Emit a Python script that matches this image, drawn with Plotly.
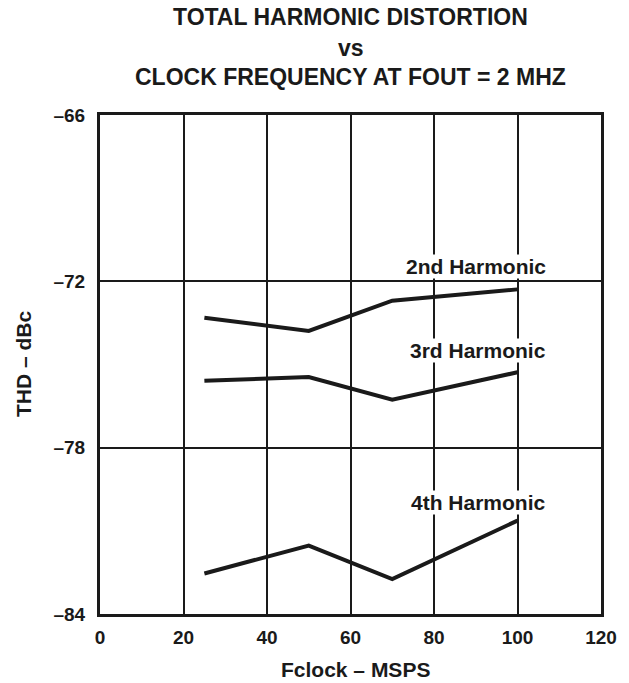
import plotly.graph_objects as go

fclock = [25, 50, 70, 100]
h2 = [-73.31, -73.79, -72.70, -72.29]
h3 = [-75.59, -75.45, -76.27, -75.28]
h4 = [-82.54, -81.53, -82.74, -80.63]

series = [("2nd Harmonic", h2), ("3rd Harmonic", h3), ("4th Harmonic", h4)]
# label anchor (right edge x, y, y-anchor)
label_pos = {"2nd Harmonic": (107, -71.93, "bottom"),
             "3rd Harmonic": (107, -74.51, "middle"),
             "4th Harmonic": (107, -79.98, "middle")}

x_ticks = [0, 20, 40, 60, 80, 100, 120]
y_ticks = [-84, -78, -72, -66]
y_tick_text = ["–84", "–78", "–72", "–66"]
title_lines = ["TOTAL HARMONIC DISTORTION", "vs", "CLOCK FREQUENCY AT FOUT = 2 MHZ"]

FONT = "Liberation Sans, Arial, sans-serif"
INK = "#1a1a1a"

L, R, T, B = 100, 28, 115, 69
W, H = 629, 683
PH = H - T - B

def py(pix):
    return (H - B - pix) / PH

fig = go.Figure()
for name, ys in series:
    fig.add_trace(go.Scatter(x=fclock, y=ys, mode="lines", name=name,
                             line=dict(color=INK, width=4), showlegend=False))

for name, (lx, ly, ya) in label_pos.items():
    fig.add_annotation(x=lx, y=ly, xref="x", yref="y", text="<b>%s</b>" % name,
                       xanchor="right", yanchor=ya,
                       showarrow=False, bgcolor="white", borderpad=0,
                       font=dict(family=FONT, size=21, color=INK))

for txt, pix in zip(title_lines, [17, 48, 77]):
    fig.add_annotation(x=0.5, y=py(pix), xref="paper", yref="paper", text="<b>%s</b>" % txt,
                       xanchor="center", yanchor="middle", showarrow=False,
                       font=dict(family=FONT, size=23, color=INK))

fig.add_annotation(x=(23 - L) / (W - L - R), y=py(364), xref="paper", yref="paper",
                   text="<b>THD – dBc</b>", textangle=-90, showarrow=False,
                   xanchor="center", yanchor="middle",
                   font=dict(family=FONT, size=21, color=INK))
fig.add_annotation(x=(355 - L) / (W - L - R), y=py(669), xref="paper", yref="paper",
                   text="<b>Fclock – MSPS</b>", showarrow=False,
                   xanchor="center", yanchor="middle",
                   font=dict(family=FONT, size=21, color=INK))

fig.update_layout(
    width=W, height=H,
    margin=dict(l=L, r=R, t=T, b=B),
    paper_bgcolor="white", plot_bgcolor="white",
    font=dict(family=FONT, color=INK),
)
fig.update_xaxes(range=[0, 120], tickvals=x_ticks,
                 ticktext=["<b>%d</b>" % v for v in x_ticks],
                 showgrid=True, gridcolor=INK, gridwidth=2,
                 showline=True, linecolor=INK, linewidth=3, mirror=True,
                 zeroline=False, ticks="", ticklabelstandoff=4, automargin=False,
                 tickfont=dict(family=FONT, size=19, color=INK))
fig.update_yaxes(range=[-84, -66], tickvals=y_ticks,
                 ticktext=["<b>%s</b>" % t for t in y_tick_text],
                 showgrid=True, gridcolor=INK, gridwidth=2,
                 showline=True, linecolor=INK, linewidth=3, mirror=True,
                 zeroline=False, ticks="", ticklabelstandoff=8, automargin=False,
                 tickfont=dict(family=FONT, size=19, color=INK))

fig.write_html("out.html", config={"displayModeBar": False, "staticPlot": True},
               post_script="document.body.style.margin='0';document.body.style.overflow='hidden';")
